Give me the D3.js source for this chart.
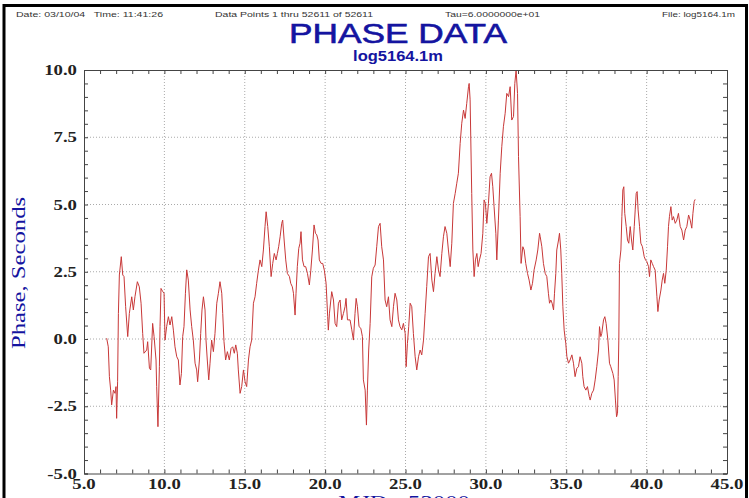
<!DOCTYPE html>
<html><head><meta charset="utf-8">
<script src="https://cdn.jsdelivr.net/npm/d3@7"></script>
<style>html,body{margin:0;padding:0;background:#fff;overflow:hidden}</style>
</head><body>
<svg id="chart" width="749" height="498"></svg>
<script>
// MJD - 53000 (x) values
const mjd = [
6.41,6.51,6.58,6.66,6.72,6.83,6.93,6.99,7.03,7.09,7.14,7.20,7.32,7.41,7.49,7.59,7.72,7.82,7.97,8.07,
8.17,8.32,8.44,8.55,8.65,8.73,8.90,8.96,9.07,9.15,9.27,9.36,9.48,9.52,9.60,9.69,9.73,9.79,9.90,9.98,
10.04,10.14,10.25,10.35,10.46,10.56,10.66,10.77,10.87,10.97,11.06,11.14,11.22,11.31,11.39,11.49,11.60,11.70,11.80,11.91,
12.01,12.07,12.18,12.26,12.34,12.43,12.53,12.59,12.67,12.76,12.84,12.94,13.05,13.15,13.26,13.36,13.46,13.57,13.63,13.71,
13.81,13.92,14.04,14.15,14.25,14.35,14.44,14.54,14.60,14.71,14.81,14.92,15.02,15.12,15.23,15.33,15.43,15.54,15.64,15.74,
15.85,15.95,16.06,16.16,16.26,16.33,16.43,16.53,16.64,16.74,16.84,16.95,17.03,17.11,17.20,17.30,17.36,17.45,17.55,17.65,
17.78,17.86,17.96,18.03,18.13,18.19,18.27,18.36,18.44,18.50,18.59,18.69,18.79,18.90,19.02,19.11,19.21,19.31,19.40,19.48,
19.56,19.64,19.75,19.85,19.95,20.06,20.16,20.20,
20.27,20.41,20.52,20.62,20.72,20.83,20.93,21.03,21.14,21.24,21.30,21.39,21.55,21.66,21.76,21.86,21.93,22.01,22.11,22.22,
22.32,22.38,22.49,22.57,22.63,22.71,22.80,22.90,23.00,23.11,23.21,23.32,23.42,23.52,23.63,23.73,23.83,23.94,24.04,24.15,
24.25,24.35,24.46,24.56,24.66,24.77,24.87,24.98,25.04,25.12,25.20,25.29,25.39,25.49,25.60,25.70,25.81,25.91,26.01,26.12,
26.22,26.32,26.43,26.53,26.64,26.74,26.84,26.95,27.05,27.15,27.26,27.36,27.46,27.57,27.67,27.78,27.88,27.98,28.09,28.19,
28.29,28.40,28.50,28.61,28.71,28.81,28.92,28.96,29.02,29.12,29.19,29.27,29.35,29.44,29.52,29.60,29.70,29.81,29.89,29.97,
30.06,30.16,30.26,30.35,30.43,30.51,30.62,30.68,30.78,30.89,30.99,31.09,31.20,31.30,31.41,31.51,31.61,31.72,31.80,31.88,
31.97,32.03,32.13,32.19,32.30,32.38,32.48,32.59,32.69,32.80,32.90,33.00,33.13,33.23,33.34,
33.38,33.48,33.58,33.69,33.79,33.89,33.96,34.04,34.12,34.21,34.27,34.35,34.41,34.52,34.58,34.66,34.72,34.79,34.87,34.97,
35.04,35.14,35.24,35.35,35.45,35.55,35.66,35.76,35.86,35.97,36.03,36.11,36.22,36.32,36.43,36.49,36.59,36.70,36.80,36.90,
37.01,37.07,37.15,37.21,37.32,37.40,37.48,37.59,37.69,37.77,37.90,37.98,38.06,38.13,38.19,38.23,38.27,38.31,38.40,38.46,
38.52,38.58,38.64,38.73,38.81,38.89,38.98,39.06,39.14,39.23,39.29,39.35,39.41,39.47,39.56,39.64,39.74,39.85,39.93,40.01,
40.12,40.18,40.26,40.35,40.43,40.53,40.64,40.70,40.78,40.89,40.97,41.05,41.13,41.22,41.30,41.36,41.42,41.51,41.59,41.67,
41.78,41.88,41.98,42.09,42.19,42.30,42.40,42.50,42.61,42.71,42.81,42.88,42.96,43.02
];
// Phase, seconds (y) values
const phase = [
0.03,-0.29,-1.40,-1.90,-2.45,-1.90,-2.02,-1.77,-2.95,-1.59,0.95,2.38,3.06,2.38,2.32,1.20,0.09,0.95,1.57,1.08,
1.57,2.13,1.94,1.33,0.21,-0.53,-0.41,-0.10,-1.09,-1.15,0.58,0.09,-0.78,-1.77,-3.26,-1.03,0.46,1.88,1.76,1.70,
-0.04,0.46,0.83,0.52,0.83,0.33,-0.29,-0.66,-0.78,-1.71,-1.28,0.09,0.46,1.70,2.57,2.19,1.08,0.46,-0.04,-0.90,
-1.15,-1.59,-0.78,0.21,1.08,1.57,1.08,-0.04,-0.78,-1.52,-0.90,-0.04,-0.47,0.21,1.33,1.70,2.13,1.70,0.95,-0.10,
-0.78,-0.47,-0.78,-0.35,-0.29,-0.53,-0.22,-0.53,-1.15,-2.02,-1.77,-1.15,-1.59,-1.77,-0.78,-0.29,-0.04,1.33,1.57,2.07,
2.56,2.94,2.69,3.31,4.18,4.73,4.18,3.43,2.32,2.81,3.18,2.94,3.18,3.43,3.80,4.30,4.42,3.68,2.94,2.44,
2.32,2.07,1.94,1.70,0.89,1.70,2.69,3.37,3.56,3.99,2.94,2.69,2.69,2.44,2.01,2.56,3.31,4.24,3.93,3.87,
3.68,2.94,2.81,2.81,2.56,2.07,0.83,0.33,
0.96,1.76,1.45,0.58,0.46,1.33,1.45,0.71,0.95,1.20,1.51,0.71,0.71,0.34,-0.04,0.95,1.51,1.20,0.46,0.40,
0.09,-1.52,-1.90,-3.20,-1.90,-0.41,0.58,2.31,2.63,2.75,3.43,4.18,4.30,3.43,2.94,1.45,1.20,1.57,0.71,0.46,
1.20,1.70,1.45,0.71,0.46,0.34,0.58,0.21,-1.03,-0.16,0.46,1.33,1.20,0.21,-0.66,-1.15,-0.66,-0.41,-0.59,-0.04,
0.95,1.95,3.06,3.18,2.19,1.76,2.44,3.06,2.57,2.32,3.18,3.80,4.18,3.93,3.31,2.69,3.56,5.04,5.41,5.79,
6.16,7.27,8.02,8.51,8.20,8.76,9.38,9.50,8.89,5.41,3.31,2.32,2.94,3.18,2.69,2.94,3.18,3.93,5.17,5.04,
4.30,5.04,6.03,6.16,5.66,4.92,3.93,2.94,4.42,6.16,7.15,7.89,8.39,9.13,9.01,9.38,8.14,8.27,9.50,9.99,
9.13,6.78,4.55,2.81,3.43,3.31,2.81,2.44,2.19,1.82,2.07,2.57,2.94,3.31,3.93,
3.80,3.43,2.81,2.44,2.32,1.70,1.33,1.45,1.33,1.08,1.70,2.44,3.31,3.68,3.93,3.31,2.44,1.20,0.33,-0.16,
-0.66,-0.90,-0.78,-0.59,-0.90,-1.40,-1.09,-1.03,-0.66,-0.90,-1.40,-1.77,-1.90,-1.77,-2.14,-2.27,-2.02,-1.90,-1.52,-1.03,
-0.41,0.46,0.09,0.21,0.71,0.83,0.58,-0.04,-0.90,-1.03,-1.28,-1.52,-2.27,-2.89,-2.76,-1.40,-0.04,2.81,3.31,4.55,
5.54,5.66,4.67,4.18,3.68,3.56,4.18,3.68,3.31,4.18,4.80,5.41,5.48,4.80,4.18,3.56,3.43,3.06,2.94,2.88,
2.69,2.32,2.94,2.81,2.69,2.56,1.57,1.02,1.45,1.82,2.19,2.44,2.07,2.56,3.43,4.18,4.55,4.92,4.42,4.55,
4.30,4.42,4.67,4.18,4.05,3.68,4.05,4.18,4.61,4.42,4.12,4.67,5.11,5.19
];
const xTickValues = [5,10,15,20,25,30,35,40,45];
const yTickValues = [-5,-2.5,0,2.5,5,7.5,10];
const xGridValues = [10,15,20,25,30,35,40];
const yGridValues = [-2.5,0,2.5,5,7.5];
const headerTexts = ["Date: 03/10/04   Time: 11:41:26","Data Points 1 thru 52611 of 52611","Tau=6.0000000e+01","File: log5164.1m"];
const titleText = "PHASE DATA";
const subtitleText = "log5164.1m";
const xTitle = "MJD - 53000";
const yTitle = "Phase, Seconds";

const svg = d3.select("#chart");
const L = 84, R = 727, T = 70, B = 473.5;
const x = d3.scaleLinear().domain([5,45]).range([L,R]);
const y = d3.scaleLinear().domain([-5,10]).range([B,T]);
const blue = "#1414a0";

svg.append("rect").attr("x",0).attr("y",0).attr("width",749).attr("height",498).attr("fill","#fff");
// outer frame
svg.append("rect").attr("x",4).attr("y",5.5).attr("width",742.5).attr("height",520)
  .attr("fill","none").attr("stroke","#000").attr("stroke-width",3);

// header small texts
const hx = [16,215,445,662], hw = [147,158,95,73];
headerTexts.forEach((t,i)=>{
  svg.append("text").attr("x",hx[i]).attr("y",17).text(t)
    .style("white-space","pre")
    .attr("font-family","Liberation Sans, Arial, sans-serif").attr("font-size",8)
    .attr("fill","#333").attr("textLength",hw[i]).attr("lengthAdjust","spacingAndGlyphs");
});

// title
svg.append("text").attr("transform","translate(398,43) scale(1.26,1)")
  .attr("text-anchor","middle").attr("font-family","Liberation Sans, Arial, sans-serif")
  .attr("font-size",28).attr("fill",blue).attr("stroke",blue).attr("stroke-width",0.6).text(titleText);
svg.append("text").attr("transform","translate(398,61) scale(1.18,1)")
  .attr("text-anchor","middle").attr("font-family","Liberation Sans, Arial, sans-serif")
  .attr("font-weight","bold").attr("font-size",14).attr("fill",blue).text(subtitleText);

// grid
const g = svg.append("g");
g.selectAll("line.vg").data(xGridValues).join("line").attr("class","vg")
  .attr("x1",d=>x(d)).attr("x2",d=>x(d)).attr("y1",T).attr("y2",B)
  .attr("stroke","#aaa").attr("stroke-width",1).attr("stroke-dasharray","1,2");
g.selectAll("line.hg").data(yGridValues).join("line").attr("class","hg")
  .attr("x1",L).attr("x2",R).attr("y1",d=>y(d)).attr("y2",d=>y(d))
  .attr("stroke","#aaa").attr("stroke-width",1).attr("stroke-dasharray","1,2");

// data line
const pts = mjd.map((m,i)=>[m,phase[i]]);
svg.append("path").datum(pts)
  .attr("d", d3.line().x(d=>x(d[0])).y(d=>y(d[1])))
  .attr("fill","none").attr("stroke","#c83838").attr("stroke-width",1).attr("stroke-linejoin","round");

// axes (all four sides, inward ticks)
const axc = "#444";
const xMinor = d3.range(5,45.001,1), yMinor = d3.range(-5,10.001,0.5);
svg.append("g").attr("transform",`translate(0,${B})`)
  .call(d3.axisBottom(x).tickValues(xMinor).tickSize(-4).tickFormat(""))
  .call(s=>{s.selectAll("line,path").attr("stroke",axc);});
svg.append("g").attr("transform",`translate(0,${T})`)
  .call(d3.axisTop(x).tickValues(xMinor).tickSize(-4).tickFormat(""))
  .call(s=>{s.selectAll("line,path").attr("stroke",axc);});
svg.append("g").attr("transform",`translate(${L},0)`)
  .call(d3.axisLeft(y).tickValues(yMinor).tickSize(-4).tickFormat(""))
  .call(s=>{s.selectAll("line,path").attr("stroke",axc);});
svg.append("g").attr("transform",`translate(${R},0)`)
  .call(d3.axisRight(y).tickValues(yMinor).tickSize(-4).tickFormat(""))
  .call(s=>{s.selectAll("line,path").attr("stroke",axc);});

// tick labels
svg.selectAll("text.xl").data(xTickValues).join("text").attr("class","xl")
  .attr("transform",d=>`translate(${x(d)},489) scale(1.25,1)`)
  .attr("text-anchor","middle").attr("font-family","Liberation Serif, Times New Roman, serif")
  .attr("font-weight","bold").attr("font-size",15).attr("fill","#222").text(d=>d.toFixed(1));
svg.selectAll("text.yl").data(yTickValues).join("text").attr("class","yl")
  .attr("transform",d=>`translate(77,${y(d)+5}) scale(1.25,1)`)
  .attr("text-anchor","end").attr("font-family","Liberation Serif, Times New Roman, serif")
  .attr("font-weight","bold").attr("font-size",15).attr("fill","#222").text(d=>d.toFixed(1));

// axis titles
svg.append("text").attr("transform","translate(25,273) rotate(-90) scale(1.3,1)")
  .attr("text-anchor","middle").attr("font-family","Liberation Serif, Times New Roman, serif")
  .attr("font-size",19).attr("fill",blue).text(yTitle);
svg.append("text").attr("transform","translate(404,509) scale(1.3,1)")
  .attr("text-anchor","middle").attr("font-family","Liberation Serif, Times New Roman, serif")
  .attr("font-size",19).attr("fill",blue).text(xTitle);
</script>
</body></html>
